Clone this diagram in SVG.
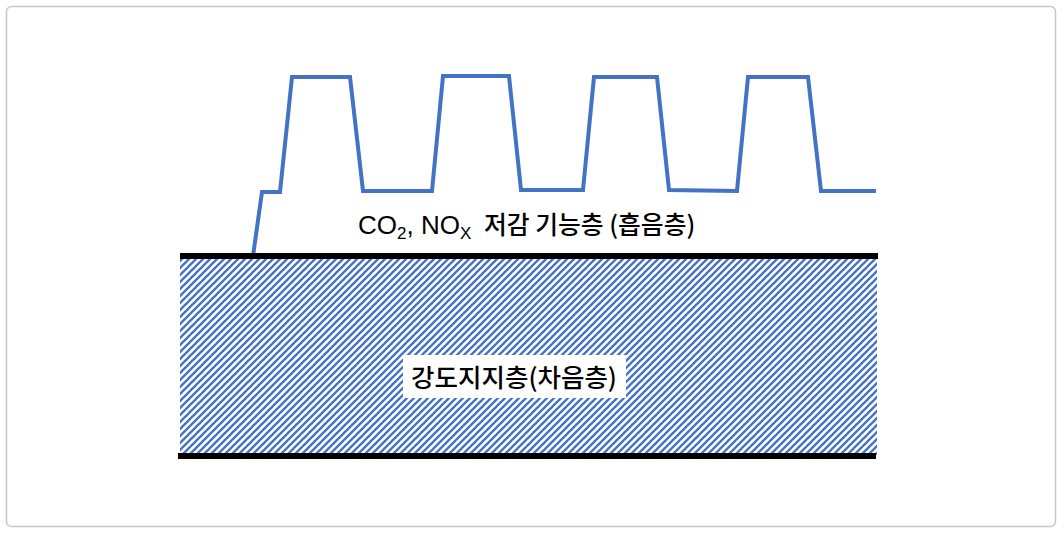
<svg xmlns="http://www.w3.org/2000/svg" width="1064" height="537" viewBox="0 0 1064 537">
<style>
.frame{fill:#fff;stroke:#c8c8c8;stroke-width:1.5}
.profile{fill:none;stroke:#4472c4;stroke-width:4;stroke-linejoin:miter}
.bar{stroke:#000;stroke-width:6}
.lbl{font-family:"Liberation Sans","Noto Sans CJK KR",sans-serif;fill:#000}
.kr{font-family:"Noto Sans CJK KR",sans-serif;font-weight:500}
</style>
<defs>
<pattern id="hatch" width="7" height="7" patternUnits="userSpaceOnUse">
<rect width="7" height="7" fill="#fff"/>
<path d="M-1,1 L1,-1 M0,7 L7,0 M6,8 L8,6" stroke="#4472c4" stroke-width="2.3"/>
</pattern>
</defs>
<rect class="frame" x="6.5" y="6.5" width="1049" height="520" rx="5"/>
<g id="support-layer">
<rect x="180" y="258" width="697" height="197" fill="url(#hatch)"/>
<rect x="403" y="355" width="223" height="43" fill="#fff"/>
<text class="lbl kr" x="514" y="387" font-size="25.5" text-anchor="middle">강도지지층(차음층)</text>
</g>
<g id="absorb-layer">
<polyline class="profile" points="253,256 262,192 280,192 292,77 350,77 363,191 432,191 443,76 509,76 521,190 583,190 594,77 657,77 669,190 737,191 748,77 808,77 821,191 876,191"/>
<text class="lbl" x="358" y="234" font-size="26">CO<tspan font-size="17" dy="5">2</tspan><tspan dy="-5">, NO</tspan><tspan font-size="17" dy="5">X</tspan><tspan class="kr" font-size="24.8" x="484" dy="-5">저감 기능층 (흡음층)</tspan></text>
</g>
<g id="connectors">
<line class="bar" x1="180" y1="256" x2="878" y2="256"/>
<line class="bar" x1="178" y1="456" x2="876" y2="456"/>
</g>
</svg>
